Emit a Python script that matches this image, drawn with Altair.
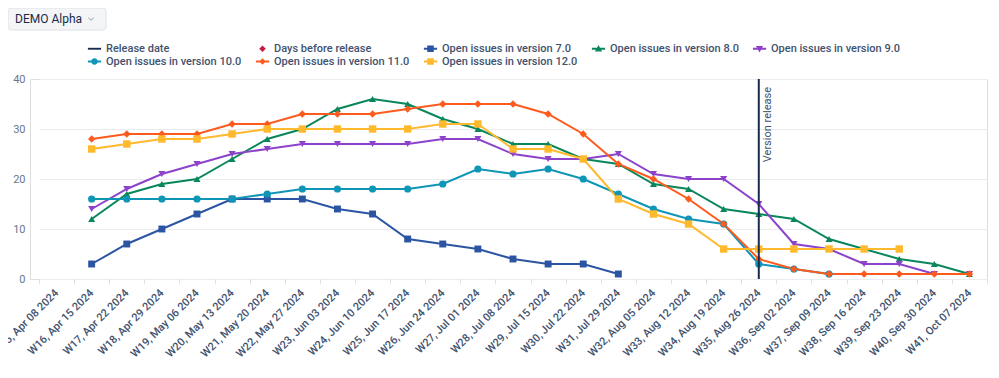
import altair as alt
import pandas as pd

weeks = [
    "W15, Apr 08 2024", "W16, Apr 15 2024", "W17, Apr 22 2024", "W18, Apr 29 2024",
    "W19, May 06 2024", "W20, May 13 2024", "W21, May 20 2024", "W22, May 27 2024",
    "W23, Jun 03 2024", "W24, Jun 10 2024", "W25, Jun 17 2024", "W26, Jun 24 2024",
    "W27, Jul 01 2024", "W28, Jul 08 2024", "W29, Jul 15 2024", "W30, Jul 22 2024",
    "W31, Jul 29 2024", "W32, Aug 05 2024", "W33, Aug 12 2024", "W34, Aug 19 2024",
    "W35, Aug 26 2024", "W36, Sep 02 2024", "W37, Sep 09 2024", "W38, Sep 16 2024",
    "W39, Sep 23 2024", "W40, Sep 30 2024", "W41, Oct 07 2024",
]

series_names = [
    "Open issues in version 7.0", "Open issues in version 8.0", "Open issues in version 9.0",
    "Open issues in version 10.0", "Open issues in version 11.0", "Open issues in version 12.0",
]

N = None
v7 = [N, 3, 7, 10, 13, 16, 16, 16, 14, 13, 8, 7, 6, 4, 3, 3, 1, N, N, N, N, N, N, N, N, N, N]
v8 = [N, 12, 17, 19, 20, 24, 28, 30, 34, 36, 35, 32, 30, 27, 27, 24, 23, 19, 18, 14, 13, 12, 8, 6, 4, 3, 1]
v9 = [N, 14, 18, 21, 23, 25, 26, 27, 27, 27, 27, 28, 28, 25, 24, 24, 25, 21, 20, 20, 15, 7, 6, 3, 3, 1, 1]
v10 = [N, 16, 16, 16, 16, 16, 17, 18, 18, 18, 18, 19, 22, 21, 22, 20, 17, 14, 12, 11, 3, 2, 1, N, N, N, N]
v11 = [N, 28, 29, 29, 29, 31, 31, 33, 33, 33, 34, 35, 35, 35, 33, 29, 23, 20, 16, 11, 4, 2, 1, 1, 1, 1, 1]
v12 = [N, 26, 27, 28, 28, 29, 30, 30, 30, 30, 30, 31, 31, 26, 26, 24, 16, 13, 11, 6, 6, 6, 6, 6, 6, N, N]
all_values = [v7, v8, v9, v10, v11, v12]

series_colors = ["#2b55a2", "#0a875a", "#8c42cb", "#0f95b6", "#fd5a1e", "#ffb92d"]
series_shapes = ["square", "triangle-up", "triangle-down", "circle", "diamond", "square"]
series_sizes = [48, 55, 55, 55, 42, 55]

legend_entries = ["Release date", "Days before release"] + series_names
legend_colors = ["#172b4d", "#c21d43"] + series_colors
LINE = "M-1.2,-0.17H1.2V0.17H-1.2Z"
legend_paths = [
    LINE,
    "M0,-0.6L0.6,0L0,0.6L-0.6,0Z",
    LINE + "M-0.6,-0.6H0.6V0.6H-0.6Z",
    LINE + "M0,-0.7L0.65,0.5L-0.65,0.5Z",
    LINE + "M0,0.7L-0.65,-0.5L0.65,-0.5Z",
    LINE + "M-0.6,0A0.6,0.6 0 1,1 0.6,0A0.6,0.6 0 1,1 -0.6,0Z",
    LINE + "M0,-0.6L0.6,0L0,0.6L-0.6,0Z",
    LINE + "M-0.6,-0.6H0.6V0.6H-0.6Z",
]

release_week = "W35, Aug 26 2024"
release_label = "Version release"
selector_label = "DEMO Alpha"

rows = []
for si, (name, vals) in enumerate(zip(series_names, all_values)):
    for wi, (w, v) in enumerate(zip(weeks, vals)):
        if v is not None:
            rows.append({"week": w, "idx": wi, "series": name, "value": v, "s": si})
df = pd.DataFrame(rows)

FONT = "Roboto"

x_enc = alt.X(
    "week:N",
    sort=weeks,
    bandPosition=0.5,
    scale=alt.Scale(type="band", domain=weeks, range=[9, 957], paddingInner=0, paddingOuter=0),
    axis=alt.Axis(
        title=None, grid=False, domain=False, ticks=True, tickBand="extent",
        tickColor="#dfe1e6", tickSize=5, labelAngle=315, labelAlign="right",
        labelBaseline="middle", labelFont=FONT, labelFontSize=11, labelFontWeight=500,
        labelColor="#42526e", labelPadding=7, labelOverlap=False, labelBound=False,
        labelLimit=0,
    ),
)
y_enc = alt.Y(
    "value:Q",
    scale=alt.Scale(domain=[0, 40], nice=False),
    axis=alt.Axis(
        values=[0, 10, 20, 30, 40], title=None, domain=False, ticks=False,
        gridColor="#ebecf0", labelColor="#6b778c", labelFont=FONT, labelFontSize=11,
        labelPadding=5,
    ),
)
color_series = alt.Color("series:N", scale=alt.Scale(domain=series_names, range=series_colors), legend=None)

lines = alt.Chart(df).mark_line(strokeWidth=2).encode(
    x=x_enc, y=y_enc, color=color_series, order=alt.Order("idx:Q")
)
points = alt.Chart(df).mark_point(filled=True, opacity=1).encode(
    x=x_enc, y=y_enc, color=color_series,
    shape=alt.Shape("series:N", scale=alt.Scale(domain=series_names, range=series_shapes), legend=None),
    size=alt.Size("series:N", scale=alt.Scale(domain=series_names, range=series_sizes), legend=None),
    order=alt.Order("s:Q"),
)

rel_df = pd.DataFrame({"week": [release_week], "label": [release_label]})
rule = alt.Chart(rel_df).mark_rule(color="#172b4d", strokeWidth=2).encode(x=x_enc)
rule_text = alt.Chart(rel_df).mark_text(
    angle=270, align="right", baseline="top", dx=-8, dy=3, font=FONT, fontSize=11, color="#42526e"
).encode(x=x_enc, y=alt.datum(40), text="label:N")

leg = alt.Legend(
    title=None, orient="none", legendX=59, legendY=-36, columns=5, direction="horizontal",
    symbolSize=121, symbolStrokeWidth=0, symbolOpacity=1, labelFont=FONT, labelFontSize=11,
    labelFontWeight=500, labelColor="#42526e", columnPadding=13, rowPadding=1, labelOffset=6,
    labelLimit=0, padding=0,
)
leg_df = pd.DataFrame({"entry": legend_entries, "value": [0] * len(legend_entries)})
legend_layer = alt.Chart(leg_df).transform_filter("datum.value > 1").mark_point(filled=True, opacity=1).encode(
    color=alt.Color("entry:N", scale=alt.Scale(domain=legend_entries, range=legend_colors), legend=leg),
    shape=alt.Shape("entry:N", scale=alt.Scale(domain=legend_entries, range=legend_paths), legend=leg),
)

sel_df = pd.DataFrame({"label": [selector_label]})
sel_box = alt.Chart(sel_df).mark_rect(cornerRadius=3, fill="#f4f5f7", stroke="#dfe1e6", strokeWidth=1).encode(
    x=alt.value(-22), x2=alt.value(76), y=alt.value(-71), y2=alt.value(-49)
)
sel_text = alt.Chart(sel_df).mark_text(align="left", baseline="middle", font=FONT, fontSize=12, color="#172b4d").encode(
    x=alt.value(-15), y=alt.value(-60), text="label:N"
)
sel_chev = alt.Chart(sel_df).mark_point(shape="M-1,-0.45L0,0.45L1,-0.45", filled=False, stroke="#6b778c", strokeWidth=1, size=28).encode(
    x=alt.value(61), y=alt.value(-60)
)

chart = alt.layer(
    lines, points, rule, rule_text, legend_layer, sel_box, sel_text, sel_chev
).resolve_scale(color="independent", shape="independent", size="independent").properties(
    width=957, height=200,
    autosize=alt.AutoSizeParams(type="none"),
    padding={"left": 22, "top": 71, "right": 4, "bottom": 90},
).configure_view(stroke=None).configure(background="white")

chart.save("out.html", embed_options={"renderer": "svg", "actions": False})
